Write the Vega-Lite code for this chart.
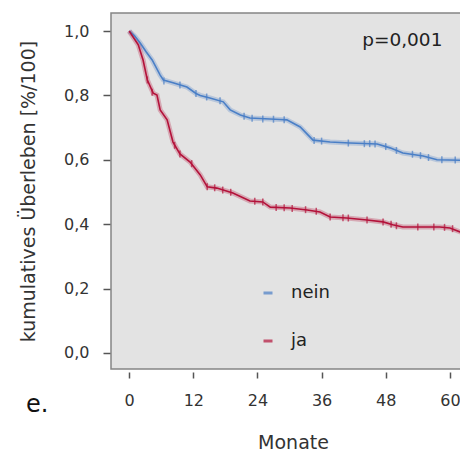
{
  "$schema": "https://vega.github.io/schema/vega-lite/v6.json",
  "width": 364,
  "height": 356,
  "autosize": {"type": "none"},
  "padding": {"left": 111, "top": 13, "right": 0, "bottom": 85},
  "background": "white",
  "config": {
    "view": {"fill": "#e3e3e3", "stroke": "#858585", "strokeWidth": 1.5},
    "font": "DejaVu Sans",
    "axis": {
      "grid": false, "domain": false, "tickColor": "#555", "tickWidth": 1.5,
      "labelFont": "DejaVu Sans", "labelFontSize": 16, "labelColor": "#333",
      "titleFont": "DejaVu Sans", "titleFontSize": 19, "titleFontWeight": "normal", "titleColor": "#333"
    }
  },
  "datasets": {
    "curves": [
      {"series": "nein", "month": 0, "surv": 1.0},
      {"series": "nein", "month": 1, "surv": 0.985},
      {"series": "nein", "month": 2.06, "surv": 0.963},
      {"series": "nein", "month": 3.2, "surv": 0.935},
      {"series": "nein", "month": 4.3, "surv": 0.91},
      {"series": "nein", "month": 5.8, "surv": 0.863},
      {"series": "nein", "month": 6.4, "surv": 0.848},
      {"series": "nein", "month": 8.2, "surv": 0.839},
      {"series": "nein", "month": 10.8, "surv": 0.826},
      {"series": "nein", "month": 12.5, "surv": 0.806},
      {"series": "nein", "month": 13.3, "surv": 0.8},
      {"series": "nein", "month": 15.1, "surv": 0.792},
      {"series": "nein", "month": 17.6, "surv": 0.78},
      {"series": "nein", "month": 18.9, "surv": 0.755},
      {"series": "nein", "month": 20.8, "surv": 0.739},
      {"series": "nein", "month": 22.6, "surv": 0.73},
      {"series": "nein", "month": 28.2, "surv": 0.725},
      {"series": "nein", "month": 29.5, "surv": 0.724},
      {"series": "nein", "month": 32.0, "surv": 0.702},
      {"series": "nein", "month": 34.4, "surv": 0.661},
      {"series": "nein", "month": 37.6, "surv": 0.655},
      {"series": "nein", "month": 41.3, "surv": 0.652},
      {"series": "nein", "month": 46.4, "surv": 0.649},
      {"series": "nein", "month": 48.8, "surv": 0.637},
      {"series": "nein", "month": 51.2, "surv": 0.621},
      {"series": "nein", "month": 55.0, "surv": 0.612},
      {"series": "nein", "month": 57.6, "surv": 0.6},
      {"series": "nein", "month": 63, "surv": 0.598},
      {"series": "ja", "month": 0, "surv": 1.0},
      {"series": "ja", "month": 1.7, "surv": 0.957},
      {"series": "ja", "month": 2.6, "surv": 0.91},
      {"series": "ja", "month": 3.4, "surv": 0.848},
      {"series": "ja", "month": 4.5, "surv": 0.807},
      {"series": "ja", "month": 5.2, "surv": 0.801},
      {"series": "ja", "month": 5.8, "surv": 0.755},
      {"series": "ja", "month": 7.1, "surv": 0.724},
      {"series": "ja", "month": 8.2, "surv": 0.655},
      {"series": "ja", "month": 9.5, "surv": 0.618},
      {"series": "ja", "month": 11.4, "surv": 0.593},
      {"series": "ja", "month": 13.3, "surv": 0.553},
      {"series": "ja", "month": 14.6, "surv": 0.516},
      {"series": "ja", "month": 16.4, "surv": 0.512},
      {"series": "ja", "month": 19.4, "surv": 0.497},
      {"series": "ja", "month": 22.6, "surv": 0.472},
      {"series": "ja", "month": 25.0, "surv": 0.469},
      {"series": "ja", "month": 26.4, "surv": 0.453},
      {"series": "ja", "month": 30.1, "surv": 0.45},
      {"series": "ja", "month": 33.3, "surv": 0.444},
      {"series": "ja", "month": 35.7, "surv": 0.438},
      {"series": "ja", "month": 37.6, "surv": 0.422},
      {"series": "ja", "month": 40.7, "surv": 0.419},
      {"series": "ja", "month": 44.5, "surv": 0.413},
      {"series": "ja", "month": 47.5, "surv": 0.407},
      {"series": "ja", "month": 49.3, "surv": 0.398},
      {"series": "ja", "month": 51.2, "surv": 0.391},
      {"series": "ja", "month": 58.1, "surv": 0.391},
      {"series": "ja", "month": 60.0, "surv": 0.388},
      {"series": "ja", "month": 61.9, "surv": 0.376},
      {"series": "ja", "month": 63, "surv": 0.374}
    ],
    "censor": [
      {"series": "nein", "month": 6.5, "surv": 0.845},
      {"series": "nein", "month": 9.5, "surv": 0.832},
      {"series": "nein", "month": 12.5, "surv": 0.806},
      {"series": "nein", "month": 14.5, "surv": 0.795},
      {"series": "nein", "month": 17, "surv": 0.783},
      {"series": "nein", "month": 21.5, "surv": 0.735},
      {"series": "nein", "month": 23, "surv": 0.729},
      {"series": "nein", "month": 25, "surv": 0.727},
      {"series": "nein", "month": 27, "surv": 0.726},
      {"series": "nein", "month": 29, "surv": 0.724},
      {"series": "nein", "month": 34.6, "surv": 0.66},
      {"series": "nein", "month": 36, "surv": 0.658},
      {"series": "nein", "month": 41, "surv": 0.652},
      {"series": "nein", "month": 44, "surv": 0.65},
      {"series": "nein", "month": 45, "surv": 0.65},
      {"series": "nein", "month": 46, "surv": 0.649},
      {"series": "nein", "month": 48, "surv": 0.641},
      {"series": "nein", "month": 50, "surv": 0.629},
      {"series": "nein", "month": 53, "surv": 0.617},
      {"series": "nein", "month": 54.5, "surv": 0.613},
      {"series": "nein", "month": 56, "surv": 0.607},
      {"series": "nein", "month": 58.5, "surv": 0.6},
      {"series": "nein", "month": 61, "surv": 0.599},
      {"series": "ja", "month": 3.4, "surv": 0.848},
      {"series": "ja", "month": 4.3, "surv": 0.81},
      {"series": "ja", "month": 8.5, "surv": 0.645},
      {"series": "ja", "month": 9.5, "surv": 0.618},
      {"series": "ja", "month": 11.7, "surv": 0.588},
      {"series": "ja", "month": 14.6, "surv": 0.516},
      {"series": "ja", "month": 16, "surv": 0.513},
      {"series": "ja", "month": 17.5, "surv": 0.506},
      {"series": "ja", "month": 19, "surv": 0.499},
      {"series": "ja", "month": 23.5, "surv": 0.471},
      {"series": "ja", "month": 25, "surv": 0.469},
      {"series": "ja", "month": 27.5, "surv": 0.452},
      {"series": "ja", "month": 29, "surv": 0.451},
      {"series": "ja", "month": 30.5, "surv": 0.449},
      {"series": "ja", "month": 33, "surv": 0.445},
      {"series": "ja", "month": 35, "surv": 0.44},
      {"series": "ja", "month": 37.6, "surv": 0.422},
      {"series": "ja", "month": 40, "surv": 0.42},
      {"series": "ja", "month": 41, "surv": 0.419},
      {"series": "ja", "month": 44.5, "surv": 0.413},
      {"series": "ja", "month": 47.5, "surv": 0.407},
      {"series": "ja", "month": 49, "surv": 0.4},
      {"series": "ja", "month": 50, "surv": 0.395},
      {"series": "ja", "month": 54, "surv": 0.391},
      {"series": "ja", "month": 57, "surv": 0.391},
      {"series": "ja", "month": 59, "surv": 0.39},
      {"series": "ja", "month": 60.5, "surv": 0.386}
    ],
    "notes": [
      {"label": "p=0,001", "month": 51.1, "surv": 0.972, "kind": "p"},
      {"label": "e.", "month": -19.3, "surv": -0.183, "kind": "e"}
    ]
  },
  "layer": [
    {
      "data": {"name": "curves"},
      "mark": {"type": "line", "strokeWidth": 5, "opacity": 0.28},
      "encoding": {
        "x": {"field": "month", "type": "quantitative", "title": "Monate",
              "scale": {"domain": [-3.4, 64.7], "nice": false, "zero": false},
              "axis": {"values": [0, 12, 24, 36, 48, 60], "offset": 3, "tickSize": 6, "labelPadding": 14, "titlePadding": 25}},
        "y": {"field": "surv", "type": "quantitative", "title": "kumulatives Überleben [%/100]",
              "scale": {"domain": [-0.05, 1.056], "nice": false, "zero": false},
              "axis": {"values": [0, 0.2, 0.4, 0.6, 0.8, 1.0], "offset": 1, "tickSize": 7, "labelPadding": 14, "titlePadding": 25,
                       "labelExpr": "replace(format(datum.value, '.1f'), '.', ',')"}},
        "color": {"field": "series", "type": "nominal",
                  "scale": {"domain": ["nein", "ja"], "range": ["#4a7fc6", "#b3123a"]},
                  "legend": {"orient": "none", "legendX": 148, "legendY": 271, "title": null, "padding": 0,
                             "symbolType": "stroke", "symbolSize": 81, "symbolStrokeWidth": 3, "symbolOpacity": 1,
                             "labelFont": "DejaVu Sans", "labelFontSize": 18, "labelColor": "#222",
                             "labelOffset": 14, "rowPadding": 30}},
        "detail": {"field": "series"}
      }
    },
    {
      "data": {"name": "curves"},
      "mark": {"type": "line", "strokeWidth": 1.6},
      "encoding": {
        "x": {"field": "month", "type": "quantitative", "title": "Monate"},
        "y": {"field": "surv", "type": "quantitative", "title": "kumulatives Überleben [%/100]"},
        "color": {"field": "series", "type": "nominal"}
      }
    },
    {
      "data": {"name": "censor"},
      "mark": {"type": "tick", "orient": "vertical", "size": 7, "thickness": 1.5},
      "encoding": {
        "x": {"field": "month", "type": "quantitative", "title": "Monate"},
        "y": {"field": "surv", "type": "quantitative", "title": "kumulatives Überleben [%/100]"},
        "color": {"field": "series", "type": "nominal"}
      }
    },
    {
      "data": {"name": "notes"},
      "transform": [{"filter": "datum.kind == 'p'"}],
      "mark": {"type": "text", "font": "DejaVu Sans", "fontSize": 18.5, "color": "#222", "align": "center", "baseline": "middle"},
      "encoding": {
        "x": {"field": "month", "type": "quantitative", "title": "Monate"},
        "y": {"field": "surv", "type": "quantitative", "title": "kumulatives Überleben [%/100]"},
        "text": {"field": "label"}
      }
    },
    {
      "data": {"name": "notes"},
      "transform": [{"filter": "datum.kind == 'e'"}],
      "mark": {"type": "text", "font": "DejaVu Sans", "fontSize": 24, "color": "#111", "align": "left", "baseline": "alphabetic"},
      "encoding": {
        "x": {"field": "month", "type": "quantitative", "title": "Monate"},
        "y": {"field": "surv", "type": "quantitative", "title": "kumulatives Überleben [%/100]"},
        "text": {"field": "label"}
      }
    }
  ]
}
